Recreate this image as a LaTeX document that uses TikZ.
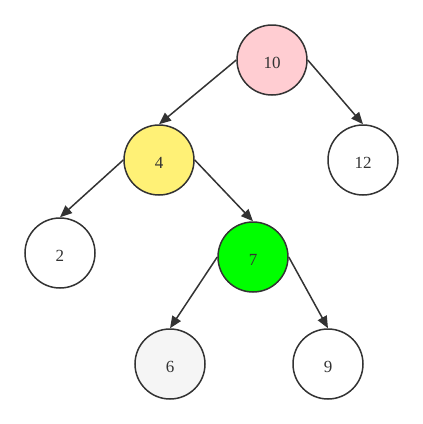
\documentclass[tikz,border=0pt]{standalone}
\usepackage{fontspec}
\setmainfont{Liberation Serif}
\usetikzlibrary{arrows.meta, positioning}
\definecolor{myInk}{RGB}{51,51,51}
\definecolor{myPink}{RGB}{255,205,210}
\definecolor{myYellow}{RGB}{255,241,118}
\definecolor{myGreen}{RGB}{0,255,0}
\definecolor{myGrey}{RGB}{245,245,245}

\begin{document}
\begin{tikzpicture}[x=1pt, y=-1pt,
    treenode/.style={circle, draw=myInk, line width=1.5pt, minimum size=70pt, inner sep=0pt,
      fill=white, text=myInk, font=\fontsize{17}{20}\selectfont, text height=17.5pt, text depth=0pt},
    treeedge/.style={draw=myInk, line width=1.5pt, -{Triangle[length=12pt, width=10pt]}}]
	% Canvas
	\useasboundingbox (0,0) rectangle (423,424);
	% Nodes
	\node[treenode, fill=myPink] (n10) at (272,60) {10};
	\node[treenode, fill=myYellow] (n4) at (159,160) {4};
	\node[treenode] (n12) at (363,160) {12};
	\node[treenode] (n2) at (60,253) {2};
	\node[treenode, fill=myGreen] (n7) at (253,257) {7};
	\node[treenode, fill=myGrey] (n6) at (170,364) {6};
	\node[treenode] (n9) at (328,364) {9};
	% Edges
	\draw[treeedge] (n10.west) -- (n4.north);
	\draw[treeedge] (n10.east) -- (n12.north);
	\draw[treeedge] (n4.west) -- (n2.north);
	\draw[treeedge] (n4.east) -- (n7.north);
	\draw[treeedge] (n7.west) -- (n6.north);
	\draw[treeedge] (n7.east) -- (n9.north);
\end{tikzpicture}
\end{document}
